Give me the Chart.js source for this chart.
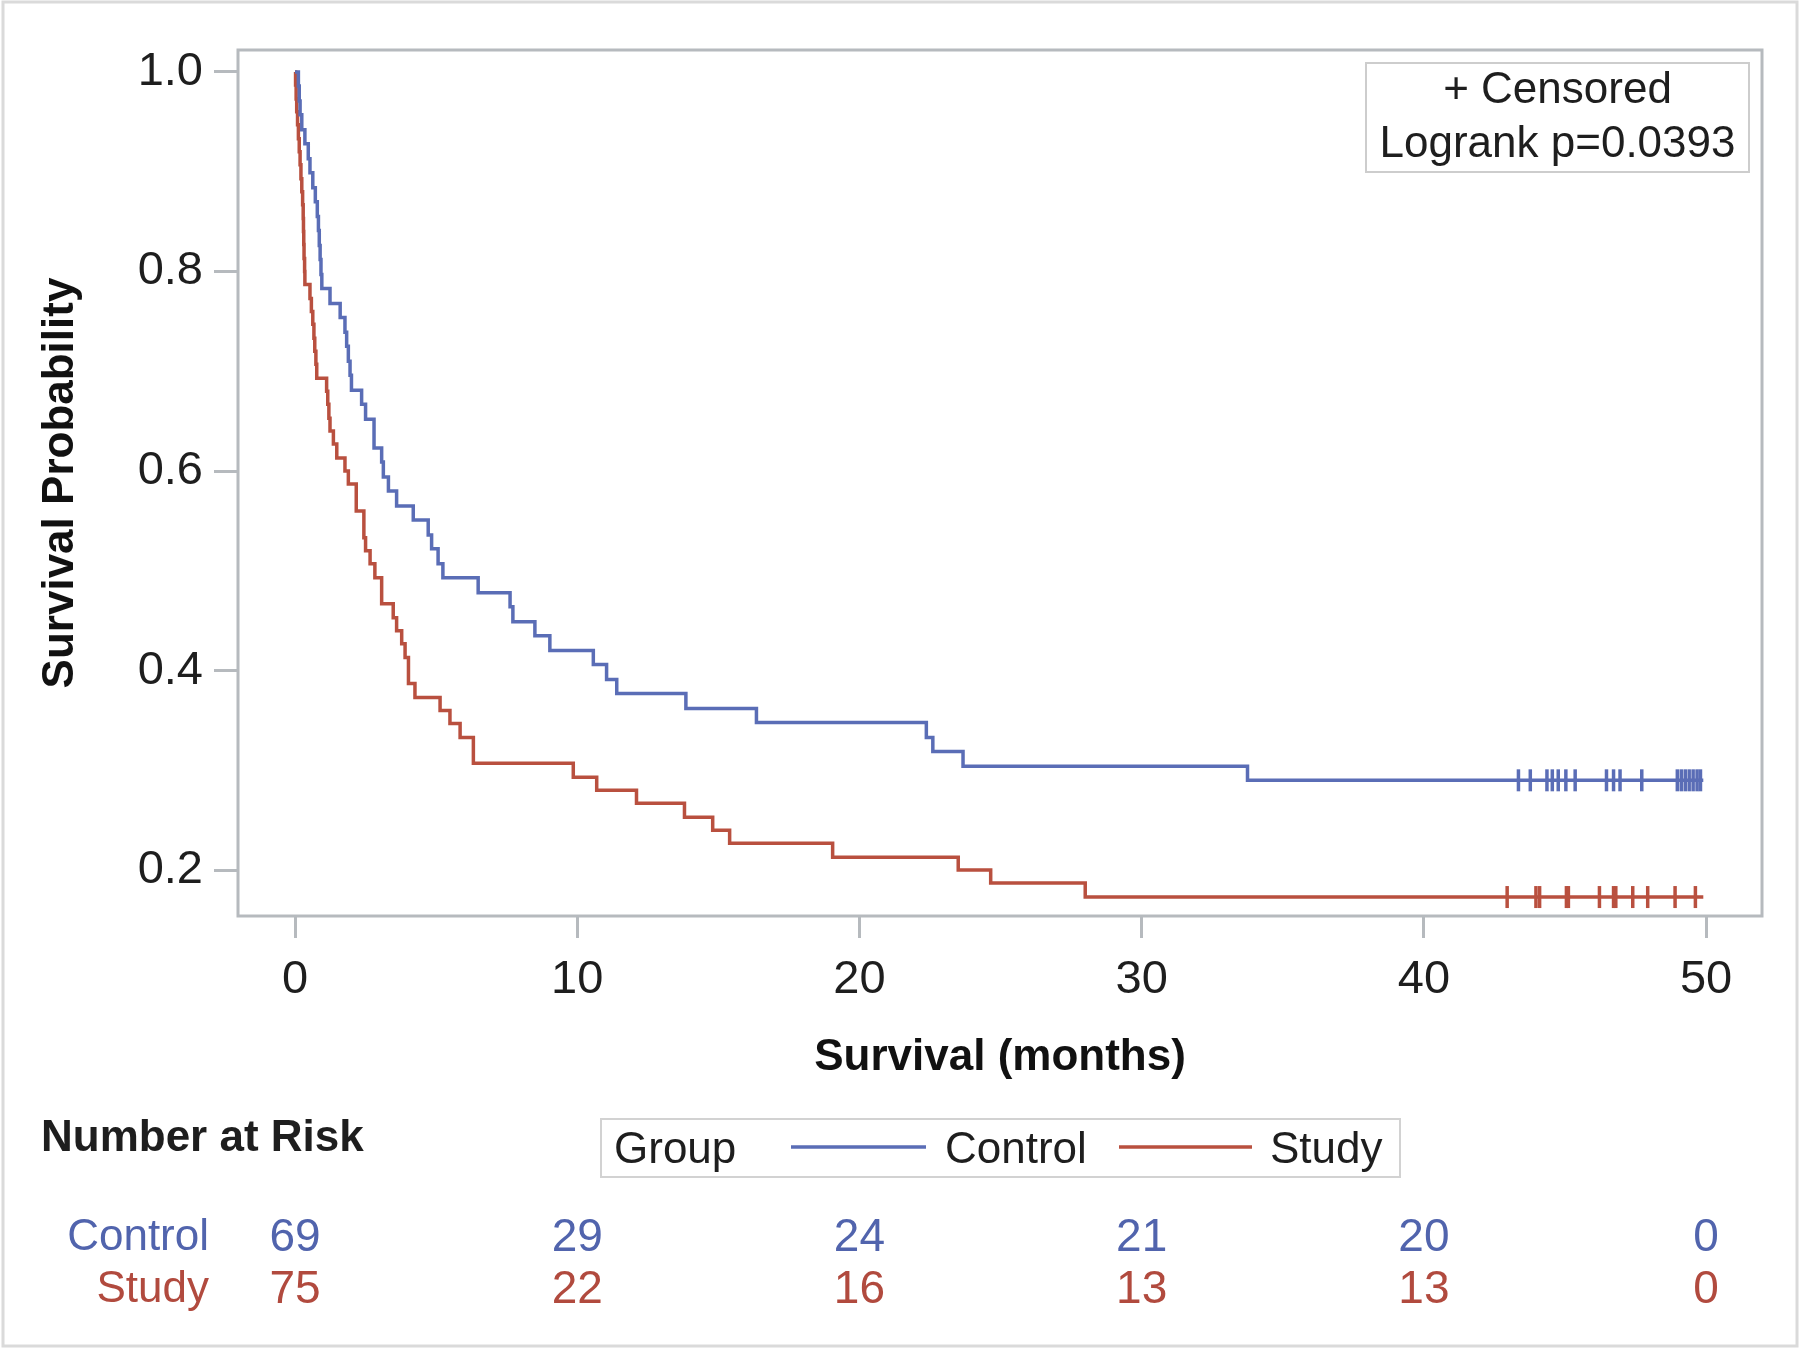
<!DOCTYPE html>
<html>
<head>
<meta charset="utf-8">
<title>Kaplan-Meier survival</title>
<script src="https://cdn.jsdelivr.net/npm/chart.js@4.4.1/dist/chart.umd.min.js"></script>
<style>
  html, body { margin: 0; padding: 0; background: #fff; }
  #wrap { width: 1800px; height: 1350px; position: relative; }
</style>
</head>
<body>
<div id="wrap"><canvas id="kmChart" width="1800" height="1350"></canvas></div>
<script>
// step times (months) and survival
const controlTimes = [0, 0.12, 0.15, 0.18, 0.24, 0.35, 0.47, 0.53, 0.63, 0.72,
  0.79, 0.83, 0.86, 0.89, 0.92, 0.95, 1.24, 1.60, 1.77, 1.83,
  1.89, 1.95, 2.00, 2.36, 2.50, 2.80, 3.07, 3.13, 3.31, 3.60,
  4.19, 4.72, 4.84, 5.07, 5.24, 6.49, 7.62, 7.72, 8.50, 9.03,
  10.57, 11.04, 11.40, 13.85, 16.35, 22.37, 22.60, 23.67, 33.75];
const controlSurv = [1.000, 0.986, 0.971, 0.957, 0.942, 0.928, 0.913, 0.899, 0.884, 0.870,
  0.855, 0.841, 0.826, 0.812, 0.797, 0.783, 0.768, 0.754, 0.739, 0.725,
  0.710, 0.696, 0.681, 0.667, 0.652, 0.623, 0.609, 0.594, 0.580, 0.565,
  0.551, 0.536, 0.522, 0.507, 0.493, 0.478, 0.464, 0.449, 0.435, 0.420,
  0.406, 0.391, 0.377, 0.362, 0.348, 0.333, 0.319, 0.304, 0.290];

const studyTimes = [0, 0.02, 0.04, 0.06, 0.09, 0.12, 0.15, 0.18, 0.21, 0.24,
  0.27, 0.29, 0.30, 0.31, 0.32, 0.34, 0.35, 0.53, 0.58, 0.63,
  0.67, 0.70, 0.74, 0.77, 1.12, 1.16, 1.20, 1.24, 1.36, 1.48,
  1.77, 1.89, 2.17, 2.44, 2.50, 2.66, 2.83, 3.07, 3.48, 3.60,
  3.78, 3.90, 4.02, 4.25, 5.14, 5.49, 5.85, 6.32, 9.86, 10.69,
  12.10, 13.80, 14.80, 15.40, 19.05, 23.50, 24.65, 28.00];
const studySurv = [1.000, 0.987, 0.973, 0.960, 0.947, 0.933, 0.920, 0.907, 0.893, 0.880,
  0.867, 0.853, 0.840, 0.827, 0.813, 0.800, 0.787, 0.773, 0.760, 0.747,
  0.733, 0.720, 0.707, 0.693, 0.680, 0.667, 0.653, 0.640, 0.627, 0.613,
  0.600, 0.587, 0.560, 0.533, 0.520, 0.507, 0.493, 0.467, 0.453, 0.440,
  0.427, 0.413, 0.387, 0.373, 0.360, 0.347, 0.333, 0.307, 0.293, 0.280,
  0.267, 0.253, 0.240, 0.227, 0.213, 0.200, 0.187, 0.173];

const controlCensored = [43.35, 43.77, 44.36, 44.55, 44.76, 45.03, 45.36, 46.47, 46.72, 46.95,
  47.72, 48.98, 49.12, 49.26, 49.40, 49.54, 49.68, 49.80];
const studyCensored = [42.95, 43.97, 44.10, 45.05, 45.12, 46.22, 46.72, 46.80, 47.40, 47.93,
  48.90, 49.62];
const followUpEnd = 49.9;

const riskTimes = [0, 10, 20, 30, 40, 50];
const controlAtRisk = [69, 29, 24, 21, 20, 0];
const studyAtRisk = [75, 22, 16, 13, 13, 0];

const xTicks = [0, 10, 20, 30, 40, 50];
const yTicks = [0.2, 0.4, 0.6, 0.8, 1.0];

const FONT = "'Liberation Sans', Arial, Helvetica, sans-serif";
const BLUE = '#5a6db6';
const RED = '#b9503f';
const BLUE_TXT = '#5164ad';
const RED_TXT = '#b14a3e';
const FRAME = '#b6babe';
const INK = '#1e1e1e';

Chart.defaults.font.family = FONT;

function stepValue(times, surv, t) {
  let v = surv[0];
  for (let i = 0; i < times.length; i++) {
    if (times[i] <= t) v = surv[i];
  }
  return v;
}

function curvePoints(times, surv, end) {
  const pts = times.map((t, i) => ({ x: t, y: surv[i] }));
  pts.push({ x: end, y: surv[surv.length - 1] });
  return pts;
}

function censorPoints(cens, times, surv) {
  return cens.map((t) => ({ x: t, y: stepValue(times, surv, t) }));
}

const kmDecor = {
  id: 'kmDecor',
  beforeDatasetsDraw(chart) {
    const { ctx, chartArea: a } = chart;
    ctx.save();
    ctx.strokeStyle = FRAME;
    ctx.lineWidth = 3;
    ctx.strokeRect(a.left, a.top, a.right - a.left, a.bottom - a.top);
    ctx.restore();
  },
  afterDraw(chart) {
    const { ctx, chartArea: a } = chart;
    const xs = chart.scales.x;
    ctx.save();

    // outer frame of the picture
    ctx.strokeStyle = '#dadada';
    ctx.lineWidth = 3;
    ctx.strokeRect(3, 2, 1794, 1344);

    // inset box: censored / logrank
    const bx = a.right - 396, by = a.top + 13, bw = 383, bh = 109;
    ctx.fillStyle = '#fff';
    ctx.fillRect(bx, by, bw, bh);
    ctx.strokeStyle = '#cdcdcd';
    ctx.lineWidth = 2;
    ctx.strokeRect(bx, by, bw, bh);
    ctx.fillStyle = INK;
    ctx.font = `44px ${FONT}`;
    ctx.textAlign = 'center';
    ctx.textBaseline = 'middle';
    ctx.fillText('+ Censored', bx + bw / 2, by + 28);
    ctx.fillText('Logrank p=0.0393', bx + bw / 2, by + 82);

    // group legend
    ctx.strokeStyle = '#d2d2d2';
    ctx.lineWidth = 2;
    ctx.strokeRect(601, 1119, 799, 58);
    ctx.textAlign = 'left';
    ctx.fillStyle = INK;
    ctx.fillText('Group', 614, 1151);
    ctx.lineWidth = 3.5;
    ctx.strokeStyle = BLUE;
    ctx.beginPath(); ctx.moveTo(791, 1147); ctx.lineTo(926, 1147); ctx.stroke();
    ctx.fillText('Control', 945, 1151);
    ctx.strokeStyle = RED;
    ctx.beginPath(); ctx.moveTo(1119, 1147); ctx.lineTo(1252, 1147); ctx.stroke();
    ctx.fillText('Study', 1270, 1151);

    // number at risk table
    ctx.font = `bold 44px ${FONT}`;
    ctx.fillText('Number at Risk', 41, 1139);
    ctx.font = `44px ${FONT}`;
    ctx.textAlign = 'right';
    ctx.fillStyle = BLUE_TXT;
    ctx.fillText('Control', 209, 1238);
    ctx.fillStyle = RED_TXT;
    ctx.fillText('Study', 209, 1290);
    ctx.textAlign = 'center';
    ctx.font = `46px ${FONT}`;
    riskTimes.forEach((t, i) => {
      const px = xs.getPixelForValue(t);
      ctx.fillStyle = BLUE_TXT;
      ctx.fillText(String(controlAtRisk[i]), px, 1238);
      ctx.fillStyle = RED_TXT;
      ctx.fillText(String(studyAtRisk[i]), px, 1290);
    });
    ctx.restore();
  },
};

new Chart(document.getElementById('kmChart'), {
  type: 'scatter',
  data: {
    datasets: [
      {
        label: 'Control',
        data: curvePoints(controlTimes, controlSurv, followUpEnd),
        showLine: true,
        stepped: true,
        borderColor: BLUE,
        borderWidth: 3.5,
        pointRadius: 0,
      },
      {
        label: 'Study',
        data: curvePoints(studyTimes, studySurv, followUpEnd),
        showLine: true,
        stepped: true,
        borderColor: RED,
        borderWidth: 3.5,
        pointRadius: 0,
      },
      {
        label: 'Control censored',
        data: censorPoints(controlCensored, controlTimes, controlSurv),
        pointStyle: 'line',
        pointRotation: 90,
        pointRadius: 11,
        pointBorderWidth: 3.5,
        pointBorderColor: BLUE,
      },
      {
        label: 'Study censored',
        data: censorPoints(studyCensored, studyTimes, studySurv),
        pointStyle: 'line',
        pointRotation: 90,
        pointRadius: 11,
        pointBorderWidth: 3.5,
        pointBorderColor: RED,
      },
    ],
  },
  options: {
    responsive: false,
    animation: false,
    events: [],
    layout: { padding: { left: 0, right: 38, top: 50, bottom: 254 } },
    plugins: {
      legend: { display: false },
      tooltip: { enabled: false },
    },
    scales: {
      x: {
        type: 'linear',
        min: -2.02,
        max: 51.98,
        afterBuildTicks: (s) => { s.ticks = xTicks.map((v) => ({ value: v })); },
        afterFit: (s) => { s.height = 180; },
        border: { display: false },
        grid: { drawOnChartArea: false, tickLength: 22, color: FRAME, lineWidth: 3 },
        ticks: { padding: 14, color: INK, font: { size: 47 }, maxRotation: 0 },
        title: {
          display: true,
          text: 'Survival (months)',
          color: '#111',
          font: { size: 44, weight: 'bold' },
          padding: { top: 0, bottom: 12 },
        },
      },
      y: {
        type: 'linear',
        min: 0.154,
        max: 1.022,
        afterBuildTicks: (s) => { s.ticks = yTicks.map((v) => ({ value: v })); },
        afterFit: (s) => { s.width = 238; },
        border: { display: false },
        grid: { drawOnChartArea: false, tickLength: 24, color: FRAME, lineWidth: 3 },
        ticks: {
          padding: 11,
          color: INK,
          font: { size: 47 },
          callback: (v) => Number(v).toFixed(1),
        },
        title: {
          display: true,
          text: 'Survival Probability',
          color: '#111',
          font: { size: 44, weight: 'bold' },
          padding: { top: 34, bottom: 0 },
        },
      },
    },
  },
  plugins: [kmDecor],
});
</script>
</body>
</html>
